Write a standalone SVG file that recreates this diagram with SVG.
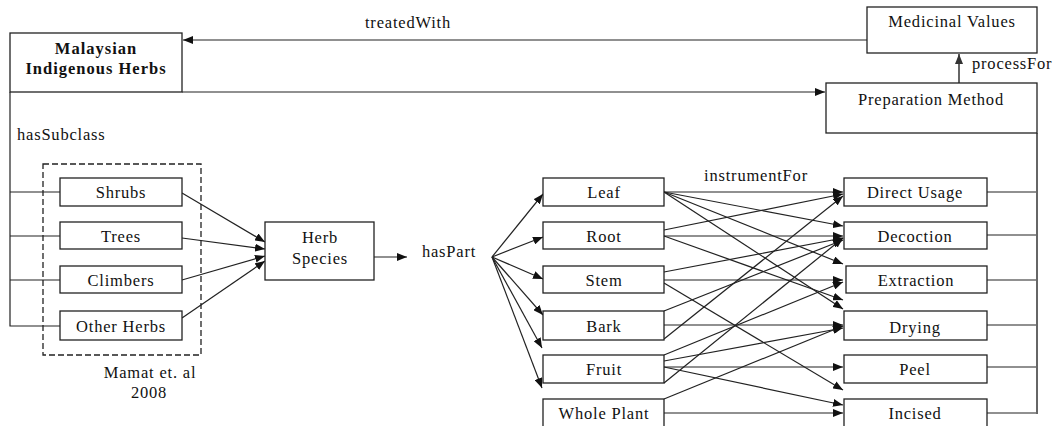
<svg xmlns="http://www.w3.org/2000/svg" width="1064" height="426" viewBox="0 0 1064 426">
<style>
.box{fill:#fff;stroke:#222;stroke-width:1.3}
.t{font-family:"Liberation Serif",serif;font-size:16.5px;letter-spacing:0.8px;fill:#111;text-anchor:middle}
.b{font-weight:bold;letter-spacing:1px}
.l{text-anchor:start}
.c{fill:none;stroke:#222;stroke-width:1.2}
.g{fill:none;stroke:#666;stroke-width:2}
.d{fill:none;stroke:#222;stroke-width:1.3;stroke-dasharray:6 3}
</style>
<defs>
<marker id="ah" markerUnits="userSpaceOnUse" markerWidth="11" markerHeight="8" refX="10" refY="4" orient="auto">
<path d="M0,0 L10,4 L0,8 z" fill="#111"/>
</marker>
<marker id="ahg" markerUnits="userSpaceOnUse" markerWidth="11" markerHeight="8" refX="10" refY="4" orient="auto">
<path d="M0,0 L10,4 L0,8 z" fill="#333"/>
</marker>
</defs>

<g id="connectors">
<line class="c" x1="867" y1="40" x2="183" y2="40" marker-end="url(#ah)"/>
<line class="c" x1="182" y1="92" x2="825" y2="92" marker-end="url(#ah)"/>
<line class="g" x1="959" y1="83" x2="959" y2="54" marker-end="url(#ahg)"/>
<polyline class="c" points="10,92 10,326 60,326"/>
<line class="c" x1="10" y1="192" x2="60" y2="192"/>
<line class="c" x1="10" y1="236" x2="60" y2="236"/>
<line class="c" x1="10" y1="280" x2="60" y2="280"/>
<line class="c" x1="182" y1="193" x2="265" y2="242" marker-end="url(#ah)"/>
<line class="c" x1="182" y1="238" x2="265" y2="249" marker-end="url(#ah)"/>
<line class="c" x1="182" y1="280" x2="265" y2="256" marker-end="url(#ah)"/>
<line class="c" x1="182" y1="318" x2="265" y2="261" marker-end="url(#ah)"/>
<line class="c" x1="374" y1="257" x2="407" y2="257" marker-end="url(#ah)"/>
<line class="c" x1="492" y1="257" x2="543" y2="194" marker-end="url(#ah)"/>
<line class="c" x1="492" y1="257" x2="543" y2="237" marker-end="url(#ah)"/>
<line class="c" x1="492" y1="257" x2="543" y2="279" marker-end="url(#ah)"/>
<line class="c" x1="492" y1="257" x2="543" y2="315" marker-end="url(#ah)"/>
<line class="c" x1="492" y1="257" x2="542" y2="348" marker-end="url(#ah)"/>
<line class="c" x1="492" y1="257" x2="542" y2="388" marker-end="url(#ah)"/>
<line class="c" x1="664" y1="192" x2="843" y2="192" marker-end="url(#ah)"/>
<line class="c" x1="664" y1="192" x2="843" y2="226" marker-end="url(#ah)"/>
<line class="c" x1="664" y1="192" x2="843" y2="264" marker-end="url(#ah)"/>
<line class="c" x1="664" y1="192" x2="843" y2="309" marker-end="url(#ah)"/>
<line class="c" x1="664" y1="230" x2="843" y2="194" marker-end="url(#ah)"/>
<line class="c" x1="664" y1="236" x2="843" y2="236" marker-end="url(#ah)"/>
<line class="c" x1="664" y1="236" x2="843" y2="300" marker-end="url(#ah)"/>
<line class="c" x1="664" y1="272" x2="843" y2="238" marker-end="url(#ah)"/>
<line class="c" x1="664" y1="280" x2="843" y2="280" marker-end="url(#ah)"/>
<line class="c" x1="664" y1="283" x2="843" y2="390" marker-end="url(#ah)"/>
<line class="c" x1="664" y1="311" x2="843" y2="240" marker-end="url(#ah)"/>
<line class="c" x1="664" y1="325" x2="843" y2="325" marker-end="url(#ah)"/>
<line class="c" x1="664" y1="339" x2="843" y2="196" marker-end="url(#ah)"/>
<line class="c" x1="664" y1="355" x2="843" y2="282" marker-end="url(#ah)"/>
<line class="c" x1="664" y1="361" x2="843" y2="328" marker-end="url(#ah)"/>
<line class="c" x1="664" y1="367" x2="843" y2="367" marker-end="url(#ah)"/>
<line class="c" x1="664" y1="367" x2="843" y2="405" marker-end="url(#ah)"/>
<line class="c" x1="664" y1="383" x2="843" y2="238" marker-end="url(#ah)"/>
<line class="c" x1="664" y1="399" x2="843" y2="326" marker-end="url(#ah)"/>
<line class="c" x1="664" y1="413" x2="843" y2="413" marker-end="url(#ah)"/>
<line class="c" x1="987" y1="192" x2="1037" y2="192"/>
<line class="c" x1="987" y1="235" x2="1037" y2="235"/>
<line class="c" x1="987" y1="280" x2="1037" y2="280"/>
<line class="c" x1="987" y1="325" x2="1037" y2="325"/>
<line class="c" x1="987" y1="367" x2="1037" y2="367"/>
<line class="c" x1="987" y1="413" x2="1037" y2="413"/>
<line class="g" x1="1037" y1="133" x2="1037" y2="414"/>
</g>

<g id="labels">
<text class="t" x="408" y="28">treatedWith</text>
<text class="t l" x="972" y="69">processFor</text>
<text class="t l" x="17" y="140">hasSubclass</text>
<text class="t" x="449" y="257">hasPart</text>
<text class="t" x="756" y="181">instrumentFor</text>
</g>

<g id="node-malaysian">
<rect class="box" x="10" y="33" width="172" height="59"/>
<text class="t b" x="96" y="54">Malaysian</text>
<text class="t b" x="96" y="74">Indigenous Herbs</text>
</g>
<g id="node-medicinal">
<rect class="box" x="867" y="7" width="170" height="46"/>
<text class="t" x="952" y="27">Medicinal Values</text>
</g>
<g id="node-preparation">
<rect class="box" x="826" y="83" width="211" height="50"/>
<text class="t" x="931" y="105">Preparation Method</text>
</g>

<g id="group-mamat">
<rect class="d" x="43" y="164" width="158" height="191"/>
<text class="t" x="150" y="378">Mamat et. al</text>
<text class="t" x="149" y="398">2008</text>
</g>
<g id="node-shrubs"><rect class="box" x="60" y="178" width="122" height="28"/><text class="t" x="121" y="198">Shrubs</text></g>
<g id="node-trees"><rect class="box" x="60" y="222" width="122" height="27"/><text class="t" x="121" y="242">Trees</text></g>
<g id="node-climbers"><rect class="box" x="60" y="266" width="122" height="27"/><text class="t" x="121" y="286">Climbers</text></g>
<g id="node-other"><rect class="box" x="60" y="311" width="122" height="29"/><text class="t" x="121" y="332">Other Herbs</text></g>

<g id="node-herb-species">
<rect class="box" x="265" y="222" width="109" height="58"/>
<text class="t" x="320" y="243">Herb</text>
<text class="t" x="320" y="264">Species</text>
</g>

<g id="node-leaf"><rect class="box" x="543" y="178" width="121" height="28"/><text class="t" x="604" y="198">Leaf</text></g>
<g id="node-root"><rect class="box" x="543" y="222" width="121" height="27"/><text class="t" x="604" y="242">Root</text></g>
<g id="node-stem"><rect class="box" x="543" y="266" width="121" height="27"/><text class="t" x="604" y="286">Stem</text></g>
<g id="node-bark"><rect class="box" x="543" y="311" width="121" height="29"/><text class="t" x="604" y="332">Bark</text></g>
<g id="node-fruit"><rect class="box" x="543" y="355" width="121" height="28"/><text class="t" x="604" y="375">Fruit</text></g>
<g id="node-whole"><rect class="box" x="543" y="399" width="121" height="32"/><text class="t" x="604" y="419">Whole Plant</text></g>

<g id="node-direct"><rect class="box" x="844" y="178" width="143" height="28"/><text class="t" x="915" y="198">Direct Usage</text></g>
<g id="node-decoction"><rect class="box" x="844" y="222" width="143" height="27"/><text class="t" x="915" y="242">Decoction</text></g>
<g id="node-extraction"><rect class="box" x="846" y="266" width="141" height="27"/><text class="t" x="916" y="286">Extraction</text></g>
<g id="node-drying"><rect class="box" x="844" y="311" width="143" height="29"/><text class="t" x="915" y="333">Drying</text></g>
<g id="node-peel"><rect class="box" x="844" y="355" width="143" height="28"/><text class="t" x="915" y="375">Peel</text></g>
<g id="node-incised"><rect class="box" x="844" y="399" width="143" height="32"/><text class="t" x="915" y="419">Incised</text></g>
</svg>
